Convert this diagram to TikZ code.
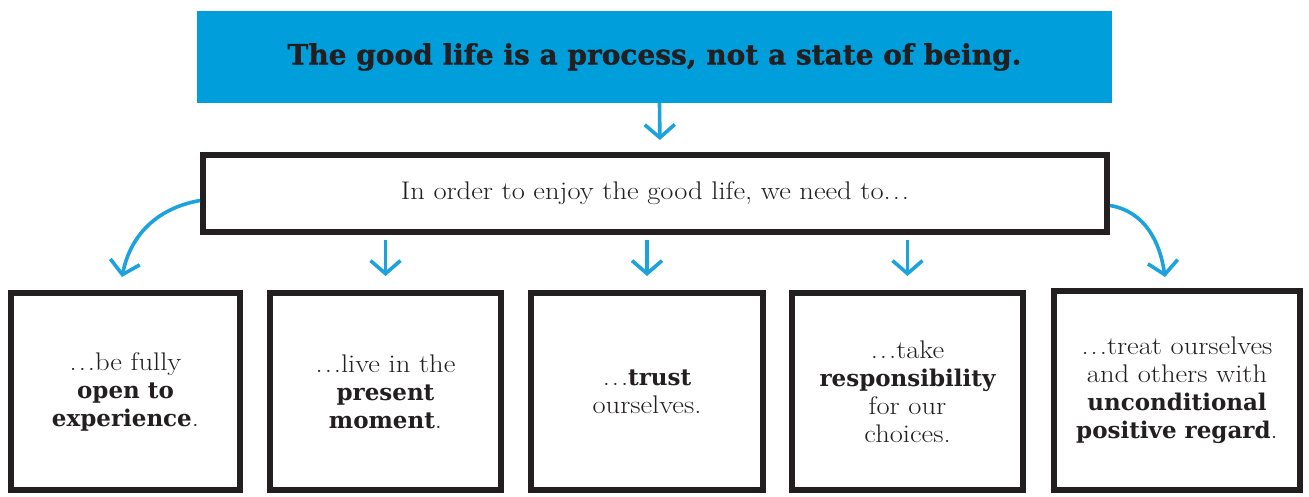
\documentclass[tikz,border=0pt]{standalone}
\usepackage{fontspec}
\setmainfont{Latin Modern Roman}[FakeStretch=1.12]
\usetikzlibrary{arrows.meta}
\newfontfamily\slab{DejaVu Serif}
\newfontfamily\titlefont{DejaVu Serif}[FakeBold=1.2]
\definecolor{topblue}{RGB}{0,158,219}
\definecolor{arrblue}{RGB}{28,162,220}
\definecolor{ink}{RGB}{35,31,32}
\newcommand\bw[1]{{\slab\bfseries\fontsize{23}{28}\selectfont #1}}
\newcommand\myell{.\kern2pt.\kern2pt.}
\tikzset{
  sketch/.style={draw=ink, line width=6pt, line join=miter, fill=white, inner sep=0pt, text=ink,
    align=center, font=\fontsize{25.5}{28}\selectfont},
  arr/.style={draw=arrblue, line width=3.6pt, -{Straight Barb[length=13pt,width=30pt]}},
}
\begin{document}
\begin{tikzpicture}[x=1pt,y=-1pt]
\useasboundingbox (0,0) rectangle (1309,497);
\node[fill=topblue, minimum width=915pt, minimum height=92pt, inner sep=0pt, text=ink,
  font=\titlefont\bfseries\fontsize{28}{32}\selectfont] (top) at (654.5,57) {The good life is a process, not a state of being.};
\node[sketch, minimum width=904pt, minimum height=77pt] (mid) at (655,193.5) {In order to enjoy the good life, we need to\myell};
\node[sketch, minimum width=229pt, minimum height=197pt] (b1) at (125.5,391.5) {\myell be fully\\ \bw{open to}\\ \bw{experience}.};
\node[sketch, minimum width=231pt, minimum height=197pt] (b2) at (385.5,391.5) {\myell live in the\\ \bw{present}\\ \bw{moment}.};
\node[sketch, minimum width=232pt, minimum height=197pt] (b3) at (647,391.5) {\myell\bw{trust}\\ ourselves.};
\node[sketch, minimum width=231pt, minimum height=197pt] (b4) at (907.5,391.5) {\myell take\\ \bw{responsibility}\\ for our\\ choices.};
\node[sketch, minimum width=246pt, minimum height=199pt] (b5) at (1177,390.5) {\myell treat ourselves\\ and others with\\ \bw{unconditional}\\ \bw{positive regard}.};
\draw[arr, shorten >=12pt] ([xshift=5pt]top.south) -- ([xshift=5pt]mid.north);
\draw[arr, shorten <=5pt, shorten >=14pt] (mid.south -| b2.north) -- (b2.north);
\draw[arr, shorten <=5pt, shorten >=14pt] (mid.south -| b3.north) -- (b3.north);
\draw[arr, shorten <=5pt, shorten >=14pt] (mid.south -| b4.north) -- (b4.north);
\coordinate (l1) at (122,277);
\coordinate (r1) at (1165,277);
\draw[arr] ([yshift=-7pt]mid.west) .. controls +(-45,8) and +(8,-40) .. (l1);
\draw[arr] ([yshift=-12pt]mid.east) .. controls +(35,6) and +(-5,-35) .. (r1);
\end{tikzpicture}
\end{document}
